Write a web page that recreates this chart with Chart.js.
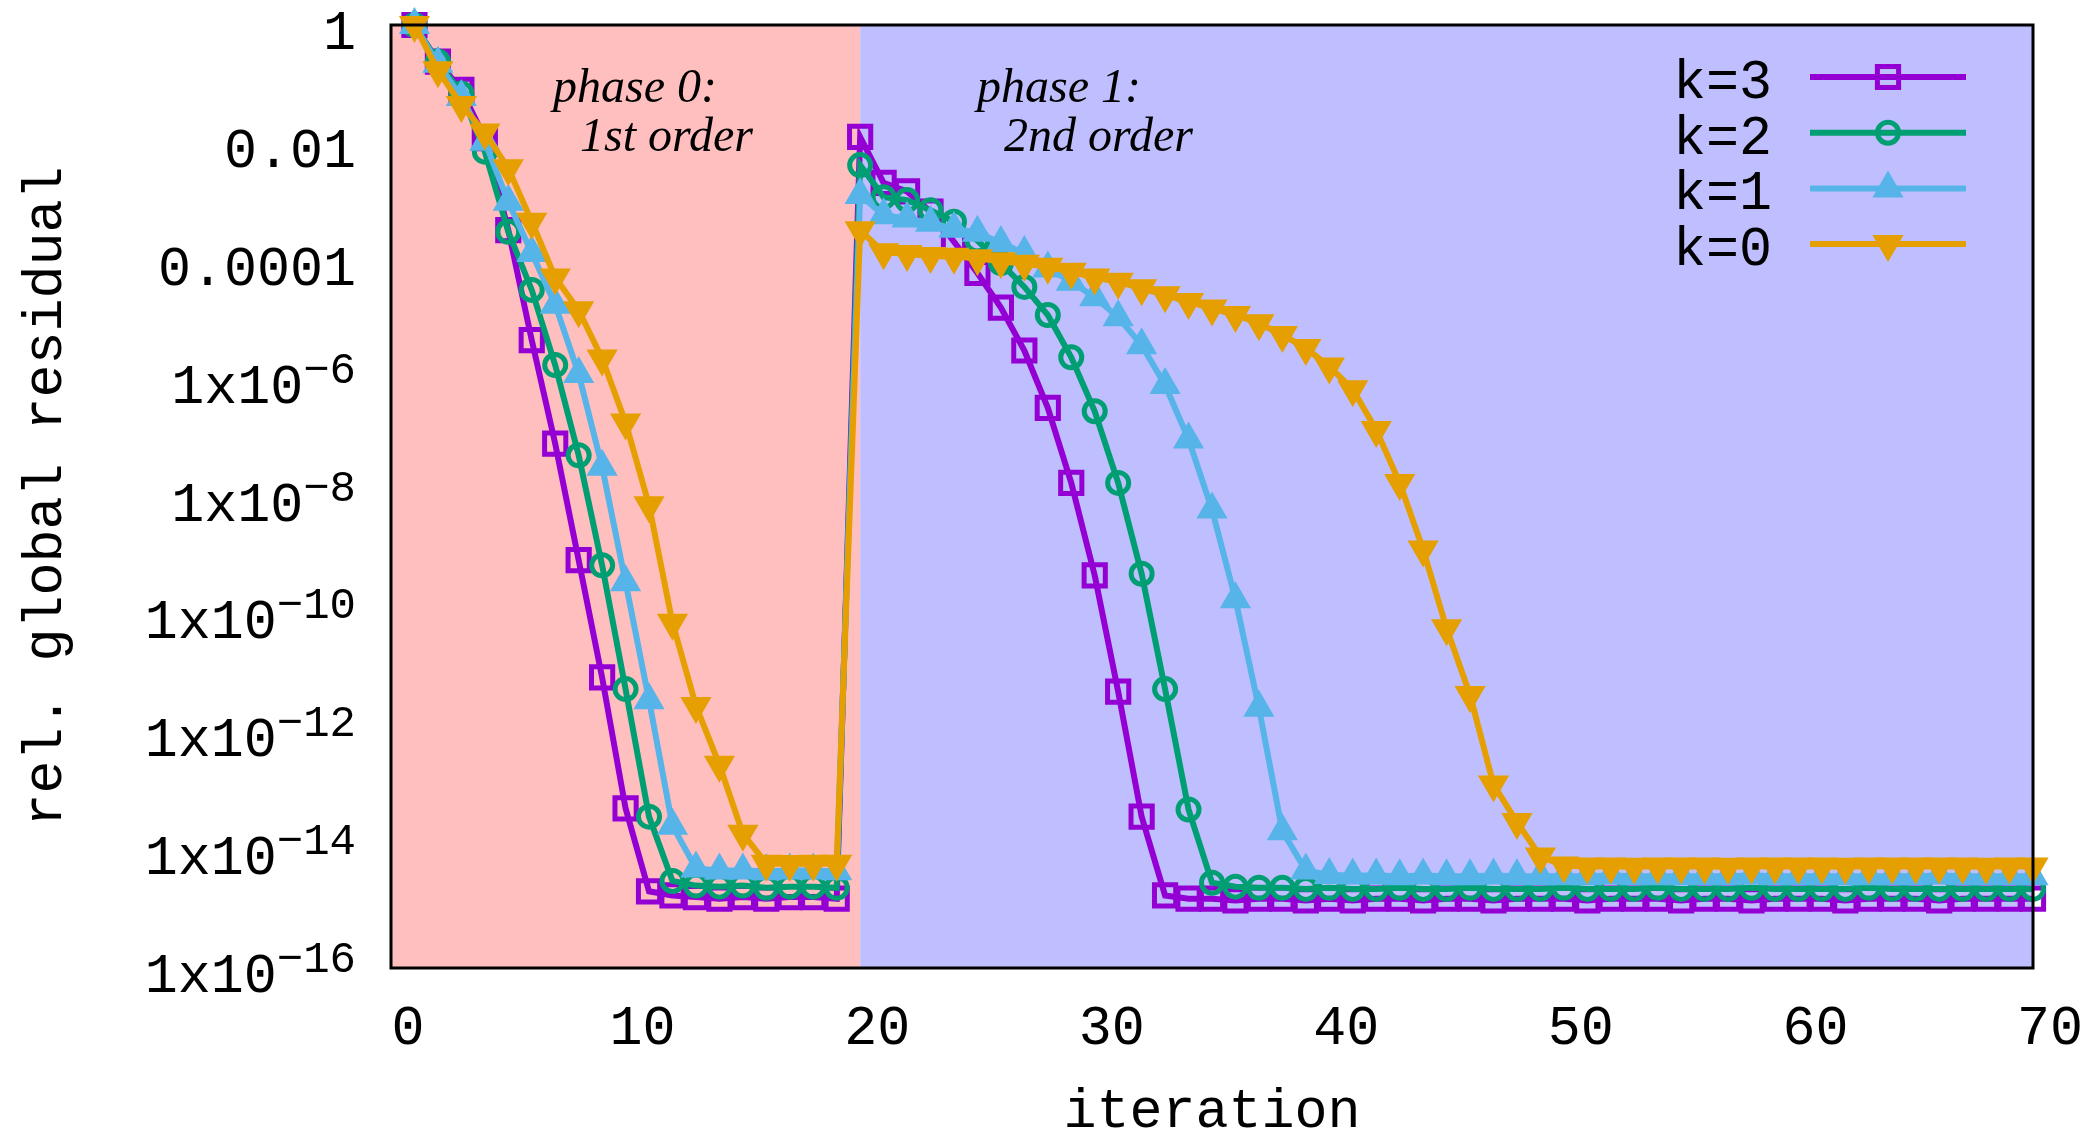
<!DOCTYPE html>
<html>
<head>
<meta charset="utf-8">
<title>Residual history</title>
<script src="https://cdn.jsdelivr.net/npm/chart.js@4.4.1/dist/chart.umd.min.js"></script>
<style>
  html, body { margin: 0; padding: 0; background: #fff; }
  #wrap { width: 2090px; height: 1136px; }
</style>
</head>
<body>
<div id="wrap"><canvas id="chart" width="2090" height="1136"></canvas></div>
<script>
// ======================
// Data
// ======================
// iterations 1..19 belong to phase 0, 20..70 to phase 1
const iterations = Array.from({ length: 70 }, (_, i) => i + 1);

const k3 = [
    1, 0.24, 7.9e-2, 1.2e-2, 3.3e-4, 4.5e-6, 7.9e-8, 8.3e-10, 8.5e-12, 5.1e-14,
    2.0e-15, 1.7e-15, 1.6e-15, 1.5e-15, 1.6e-15, 1.5e-15, 1.6e-15, 1.6e-15, 1.5e-15,
    1.26e-2, 2.1e-3, 1.5e-3, 6.8e-4, 2.1e-4, 6.2e-5, 1.6e-5, 3.0e-6, 3.2e-7, 1.7e-8,
    4.6e-10, 4.9e-12, 3.7e-14, 1.7e-15, 1.5e-15, 1.5e-15, 1.4e-15, 1.5e-15, 1.5e-15, 1.4e-15,
    1.5e-15, 1.4e-15, 1.5e-15, 1.5e-15, 1.4e-15, 1.5e-15, 1.5e-15, 1.4e-15, 1.5e-15, 1.5e-15,
    1.5e-15, 1.4e-15, 1.5e-15, 1.5e-15, 1.5e-15, 1.4e-15, 1.5e-15, 1.5e-15, 1.4e-15, 1.5e-15,
    1.5e-15, 1.5e-15, 1.4e-15, 1.5e-15, 1.5e-15, 1.5e-15, 1.4e-15, 1.5e-15, 1.5e-15, 1.5e-15,
    1.5e-15
];

const k2 = [
    1, 0.24, 6.9e-2, 7.1e-3, 3.1e-4, 3.2e-5, 1.7e-6, 5.0e-8, 6.8e-10, 5.4e-12,
    3.7e-14, 3.0e-15, 2.5e-15, 2.4e-15, 2.5e-15, 2.3e-15, 2.4e-15, 2.4e-15, 2.3e-15,
    4.2e-3, 1.2e-3, 1.07e-3, 7.2e-4, 4.6e-4, 2.2e-4, 9.1e-5, 3.6e-5, 1.2e-5, 2.3e-6,
    2.8e-7, 1.7e-8, 4.9e-10, 5.4e-12, 4.9e-14, 2.8e-15, 2.4e-15, 2.3e-15, 2.3e-15, 2.2e-15,
    2.3e-15, 2.2e-15, 2.2e-15, 2.3e-15, 2.2e-15, 2.2e-15, 2.3e-15, 2.2e-15, 2.2e-15, 2.2e-15,
    2.3e-15, 2.2e-15, 2.2e-15, 2.2e-15, 2.3e-15, 2.2e-15, 2.2e-15, 2.2e-15, 2.3e-15, 2.2e-15,
    2.2e-15, 2.2e-15, 2.2e-15, 2.3e-15, 2.2e-15, 2.2e-15, 2.2e-15, 2.2e-15, 2.2e-15, 2.2e-15,
    2.2e-15
];

const k1 = [
    1, 0.22, 6.0e-2, 1.05e-2, 1.0e-3, 1.35e-4, 1.8e-5, 1.2e-6, 3.2e-8, 3.5e-10,
    3.5e-12, 2.6e-14, 4.9e-15, 4.5e-15, 4.5e-15, 4.4e-15, 4.5e-15, 4.5e-15, 4.4e-15,
    1.3e-3, 5.9e-4, 5.2e-4, 4.4e-4, 3.5e-4, 3.0e-4, 2.0e-4, 1.35e-4, 7.4e-5, 4.4e-5,
    2.4e-5, 1.1e-5, 3.7e-6, 7.8e-7, 9.3e-8, 6.0e-9, 1.8e-10, 2.6e-12, 2.1e-14, 4.5e-15,
    3.8e-15, 3.7e-15, 3.7e-15, 3.6e-15, 3.7e-15, 3.6e-15, 3.6e-15, 3.7e-15, 3.6e-15, 3.6e-15,
    3.6e-15, 3.6e-15, 3.7e-15, 3.6e-15, 3.6e-15, 3.6e-15, 3.6e-15, 3.6e-15, 3.7e-15, 3.6e-15,
    3.6e-15, 3.6e-15, 3.6e-15, 3.6e-15, 3.6e-15, 3.6e-15, 3.7e-15, 3.6e-15, 3.6e-15, 3.6e-15,
    3.6e-15
];

const k0 = [
    1, 0.17, 4.4e-2, 1.5e-2, 3.7e-3, 4.6e-4, 5.2e-5, 1.45e-5, 2.2e-6, 1.8e-7,
    7.1e-9, 7.2e-11, 2.8e-12, 2.8e-13, 1.9e-14, 5.9e-15, 5.8e-15, 5.9e-15, 5.9e-15,
    3.3e-4, 1.4e-4, 1.3e-4, 1.2e-4, 1.17e-4, 1.1e-4, 9.8e-5, 8.9e-5, 7.9e-5, 6.5e-5,
    5.2e-5, 4.4e-5, 3.4e-5, 2.6e-5, 2.0e-5, 1.55e-5, 1.2e-5, 8.7e-6, 5.5e-6, 3.3e-6,
    1.6e-6, 6.6e-7, 1.35e-7, 1.7e-8, 1.26e-9, 5.8e-11, 4.3e-12, 1.3e-13, 3.0e-14, 7.8e-15,
    5.5e-15, 5.3e-15, 5.3e-15, 5.2e-15, 5.3e-15, 5.3e-15, 5.3e-15, 5.2e-15, 5.3e-15, 5.3e-15,
    5.3e-15, 5.3e-15, 5.2e-15, 5.3e-15, 5.3e-15, 5.3e-15, 5.3e-15, 5.3e-15, 5.2e-15, 5.3e-15,
    5.3e-15
];

const seriesLabels = ["k=3", "k=2", "k=1", "k=0"];
const xTicks = [0, 10, 20, 30, 40, 50, 60, 70];
const yTicks = [1, 1e-2, 1e-4, 1e-6, 1e-8, 1e-10, 1e-12, 1e-14, 1e-16];
// mantissa part and superscript exponent of every y label
const yTickText = [
    ["1", ""], ["0.01", ""], ["0.0001", ""], ["1x10", "\u22126"], ["1x10", "\u22128"],
    ["1x10", "\u221210"], ["1x10", "\u221212"], ["1x10", "\u221214"], ["1x10", "\u221216"]
];
const phaseRanges = [[0, 20], [20, 70]];
const phaseCaptions = [["phase 0:", "1st order"], ["phase 1:", "2nd order"]];

// ======================
// Styling
// ======================
const MONO = '"Liberation Mono", "DejaVu Sans Mono", monospace';
const SERIF = '"Liberation Serif", "DejaVu Serif", serif';
const phaseColors = ["#ffbfbf", "#bfbfff"];
const lineColors = ["#9400d3", "#009e73", "#56b4e9", "#e69f00"];
const NONE = "rgba(0,0,0,0)";

function makeSet(i, values, style, filled, radius, rotation, pointWidth) {
    const c = lineColors[i];
    return {
        label: seriesLabels[i],
        data: iterations.map((x, j) => ({ x: x, y: values[j] })),
        borderColor: c,
        backgroundColor: c,
        borderWidth: 6,
        pointStyle: style,
        pointRadius: radius,
        pointRotation: rotation,
        pointBorderWidth: pointWidth,
        pointBorderColor: c,
        pointBackgroundColor: filled ? c : NONE,
        tension: 0,
        clip: false,
        order: 3 - i
    };
}

const datasets = [
    makeSet(0, k3, "rect", false, 15, 0, 5),
    makeSet(1, k2, "circle", false, 10.5, 0, 5),
    makeSet(2, k1, "triangle", true, 16, 0, 2),
    makeSet(3, k0, "triangle", true, 16, 180, 2)
];

// ======================
// Plugins
// ======================
const phaseBands = {
    id: "phaseBands",
    beforeDatasetsDraw(chart) {
        const { ctx, chartArea: a, scales: { x } } = chart;
        ctx.save();
        phaseRanges.forEach((r, i) => {
            const x0 = x.getPixelForValue(r[0]);
            const x1 = x.getPixelForValue(r[1]);
            ctx.fillStyle = phaseColors[i];
            ctx.fillRect(x0, a.top, x1 - x0, a.bottom - a.top);
        });
        ctx.fillStyle = "#000";
        ctx.font = "italic 48px " + SERIF;
        ctx.textAlign = "left";
        ctx.textBaseline = "alphabetic";
        const offsets = [162, 586];
        phaseCaptions.forEach((lines, i) => {
            ctx.fillText(lines[0], a.left + offsets[i], a.top + 77);
            ctx.fillText(lines[1], a.left + offsets[i] + 27, a.top + 126);
        });
        ctx.restore();
    }
};

const frameAndKey = {
    id: "frameAndKey",
    afterDatasetsDraw(chart) {
        const { ctx, chartArea: a } = chart;
        ctx.save();
        // key in the upper right corner
        chart.data.datasets.forEach((ds, i) => {
            const y = a.top + 52 + i * 55.7;
            ctx.strokeStyle = ds.borderColor;
            ctx.lineWidth = ds.borderWidth;
            ctx.beginPath();
            ctx.moveTo(a.right - 223, y);
            ctx.lineTo(a.right - 67, y);
            ctx.stroke();
            ctx.fillStyle = ds.pointBackgroundColor;
            ctx.strokeStyle = ds.pointBorderColor;
            ctx.lineWidth = ds.pointBorderWidth;
            Chart.helpers.drawPoint(ctx, {
                pointStyle: ds.pointStyle,
                rotation: ds.pointRotation,
                radius: ds.pointRadius,
                borderWidth: ds.pointBorderWidth
            }, a.right - 145, y);
            ctx.fillStyle = "#000";
            ctx.font = "55px " + MONO;
            ctx.textAlign = "right";
            ctx.textBaseline = "alphabetic";
            ctx.fillText(ds.label, a.right - 261, y + 21);
        });
        // plot border
        ctx.strokeStyle = "#000";
        ctx.lineWidth = 3;
        ctx.strokeRect(a.left, a.top, a.right - a.left, a.bottom - a.top);
        ctx.restore();
    }
};

const yLabels = {
    id: "yLabels",
    afterDraw(chart) {
        const { ctx, chartArea: a, scales: { y } } = chart;
        ctx.save();
        ctx.fillStyle = "#000";
        ctx.textAlign = "right";
        ctx.textBaseline = "alphabetic";
        yTicks.forEach((v, i) => {
            const base = y.getPixelForValue(v) + 24;
            let right = a.left - 35;
            const [mant, exp] = yTickText[i];
            if (exp) {
                ctx.font = "44px " + MONO;
                ctx.fillText(exp, right, base - 20);
                right -= ctx.measureText(exp).width;
            }
            ctx.font = "55px " + MONO;
            ctx.fillText(mant, right, base);
        });
        ctx.restore();
    }
};

// ======================
// Chart
// ======================
new Chart(document.getElementById("chart"), {
    type: "line",
    data: { datasets: datasets },
    options: {
        responsive: false,
        animation: false,
        devicePixelRatio: 1,
        layout: { padding: { top: 25, right: 57, bottom: 0, left: 0 } },
        plugins: {
            legend: { display: false },
            tooltip: { enabled: false }
        },
        scales: {
            x: {
                type: "linear",
                min: 0,
                max: 70,
                afterBuildTicks: s => { s.ticks = xTicks.map(v => ({ value: v })); },
                afterFit: s => {
                    s.height = 168;
                    s.paddingLeft = 0;
                    s.paddingRight = 0;
                },
                grid: { display: false, drawTicks: false },
                border: { display: false },
                ticks: {
                    font: { family: MONO, size: 55, lineHeight: 1 },
                    color: "#000",
                    padding: 34,
                    labelOffset: 17,
                    maxRotation: 0,
                    autoSkip: false
                },
                title: {
                    display: true,
                    text: "iteration",
                    color: "#000",
                    font: { family: MONO, size: 55, lineHeight: 0.86 },
                    padding: 0
                }
            },
            y: {
                type: "logarithmic",
                min: 1e-16,
                max: 1,
                afterBuildTicks: s => { s.ticks = yTicks.map(v => ({ value: v })); },
                afterFit: s => { s.width = 391; },
                grid: { display: false, drawTicks: false },
                border: { display: false },
                ticks: { display: false },
                title: {
                    display: true,
                    text: "rel. global residual",
                    color: "#000",
                    font: { family: MONO, size: 55, lineHeight: 1 },
                    padding: { top: 19, bottom: 0 }
                }
            }
        }
    },
    plugins: [phaseBands, frameAndKey, yLabels]
});
</script>
</body>
</html>
